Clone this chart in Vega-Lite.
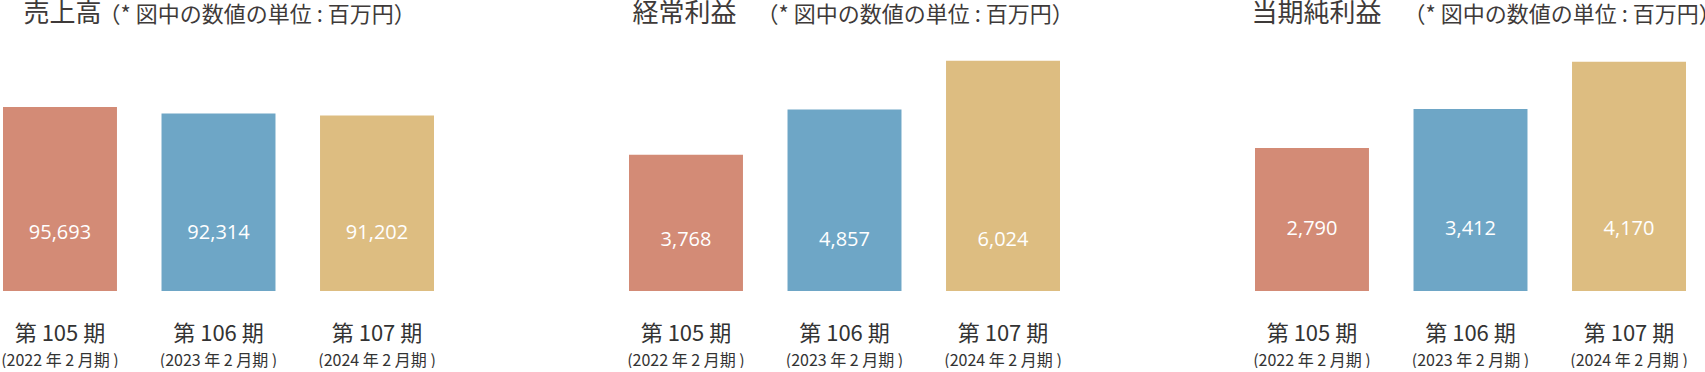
{
  "$schema": "https://vega.github.io/schema/vega-lite/v6.json",
  "padding": {"left": 0, "top": 0, "right": 0, "bottom": 0},
  "background": "white",
  "data": {"values": [
    {"metric": "売上高", "period": "第 105 期", "fy": "(2022 年 2 月期 )", "value": 95693},
    {"metric": "売上高", "period": "第 106 期", "fy": "(2023 年 2 月期 )", "value": 92314},
    {"metric": "売上高", "period": "第 107 期", "fy": "(2024 年 2 月期 )", "value": 91202},
    {"metric": "経常利益", "period": "第 105 期", "fy": "(2022 年 2 月期 )", "value": 3768},
    {"metric": "経常利益", "period": "第 106 期", "fy": "(2023 年 2 月期 )", "value": 4857},
    {"metric": "経常利益", "period": "第 107 期", "fy": "(2024 年 2 月期 )", "value": 6024},
    {"metric": "当期純利益", "period": "第 105 期", "fy": "(2022 年 2 月期 )", "value": 2790},
    {"metric": "当期純利益", "period": "第 106 期", "fy": "(2023 年 2 月期 )", "value": 3412},
    {"metric": "当期純利益", "period": "第 107 期", "fy": "(2024 年 2 月期 )", "value": 4170}
  ]},
  "config": {
    "view": {"stroke": null},
    "font": "Noto Sans CJK JP",
    "axisY": {"labels": false, "ticks": false, "domain": false, "grid": false, "titleAngle": 0, "titleAlign": "left", "titleBaseline": "alphabetic", "titleFontWeight": "normal", "titleColor": "#3e3a39", "titleFont": "Noto Sans CJK JP"},
    "axisX": {"title": null, "labelAngle": 0, "ticks": false, "domain": false, "labelColor": "#333", "labelFont": "Noto Sans CJK JP", "labelBaseline": "middle"}
  },
  "spacing": 195,
  "bounds": "flush",
  "hconcat": [
    {
      "width": 431, "height": 250,
      "transform": [{"filter": "datum.metric === '売上高'"}],
      "layer": [
        {
          "mark": {"type": "bar"},
          "encoding": {
            "x": {"field": "period", "type": "nominal", "sort": null, "scale": {"type": "band", "paddingInner": 0.281, "paddingOuter": 0},
              "axis": {"orient": "bottom", "labelFontSize": 22, "labelPadding": 42}},
            "y": {"field": "value", "type": "quantitative", "scale": {"domain": [0, 129330], "clamp": true},
              "axis": {"orient": "left", "title": "売上高", "titleX": 20, "titleY": -20, "titleFontSize": 26}},
            "color": {"field": "period", "type": "nominal", "sort": null, "scale": {"range": ["#d38b76", "#6ea6c6", "#ddbd81"]}, "legend": null}
          }
        },
        {
          "mark": {"type": "text", "color": "white", "fontSize": 20, "font": "Open Sans"},
          "encoding": {
            "x": {"field": "fy", "type": "nominal", "sort": null, "scale": {"type": "band", "paddingInner": 0.281, "paddingOuter": 0},
              "axis": {"orient": "bottom", "labelFontSize": 16, "labelPadding": 69}},
            "y": {"datum": 30000, "type": "quantitative",
              "axis": {"orient": "left", "title": "（* 図中の数値の単位 : 百万円）", "titleX": 95, "titleY": -20, "titleFontSize": 22}},
            "text": {"field": "value", "type": "quantitative", "format": ","}
          }
        }
      ],
      "resolve": {"scale": {"x": "independent"}, "axis": {"y": "independent"}}
    },
    {
      "width": 431, "height": 250,
      "transform": [{"filter": "datum.metric === '経常利益'"}],
      "layer": [
        {
          "mark": {"type": "bar"},
          "encoding": {
            "x": {"field": "period", "type": "nominal", "sort": null, "scale": {"type": "band", "paddingInner": 0.281, "paddingOuter": 0},
              "axis": {"orient": "bottom", "labelFontSize": 22, "labelPadding": 42}},
            "y": {"field": "value", "type": "quantitative", "scale": {"domain": [562, 6349], "zero": false, "clamp": true},
              "axis": {"orient": "left", "title": "経常利益", "titleX": 3, "titleY": -20, "titleFontSize": 26}},
            "color": {"field": "period", "type": "nominal", "sort": null, "scale": {"range": ["#d38b76", "#6ea6c6", "#ddbd81"]}, "legend": null}
          }
        },
        {
          "mark": {"type": "text", "color": "white", "fontSize": 20, "font": "Open Sans"},
          "encoding": {
            "x": {"field": "fy", "type": "nominal", "sort": null, "scale": {"type": "band", "paddingInner": 0.281, "paddingOuter": 0},
              "axis": {"orient": "bottom", "labelFontSize": 16, "labelPadding": 69}},
            "y": {"datum": 1719, "type": "quantitative",
              "axis": {"orient": "left", "title": "（* 図中の数値の単位 : 百万円）", "titleX": 127, "titleY": -20, "titleFontSize": 22}},
            "text": {"field": "value", "type": "quantitative", "format": ","}
          }
        }
      ],
      "resolve": {"scale": {"x": "independent"}, "axis": {"y": "independent"}}
    },
    {
      "width": 431, "height": 250,
      "transform": [{"filter": "datum.metric === '当期純利益'"}],
      "layer": [
        {
          "mark": {"type": "bar"},
          "encoding": {
            "x": {"field": "period", "type": "nominal", "sort": null, "scale": {"type": "band", "paddingInner": 0.281, "paddingOuter": 0},
              "axis": {"orient": "bottom", "labelFontSize": 22, "labelPadding": 42}},
            "y": {"field": "value", "type": "quantitative", "scale": {"domain": [560, 4348], "zero": false, "clamp": true},
              "axis": {"orient": "left", "title": "当期純利益", "titleX": -4, "titleY": -20, "titleFontSize": 26}},
            "color": {"field": "period", "type": "nominal", "sort": null, "scale": {"range": ["#d38b76", "#6ea6c6", "#ddbd81"]}, "legend": null}
          }
        },
        {
          "mark": {"type": "text", "color": "white", "fontSize": 20, "font": "Open Sans"},
          "encoding": {
            "x": {"field": "fy", "type": "nominal", "sort": null, "scale": {"type": "band", "paddingInner": 0.281, "paddingOuter": 0},
              "axis": {"orient": "bottom", "labelFontSize": 16, "labelPadding": 69}},
            "y": {"datum": 1499, "type": "quantitative",
              "axis": {"orient": "left", "title": "（* 図中の数値の単位 : 百万円）", "titleX": 148, "titleY": -20, "titleFontSize": 22}},
            "text": {"field": "value", "type": "quantitative", "format": ","}
          }
        }
      ],
      "resolve": {"scale": {"x": "independent"}, "axis": {"y": "independent"}}
    }
  ]
}
